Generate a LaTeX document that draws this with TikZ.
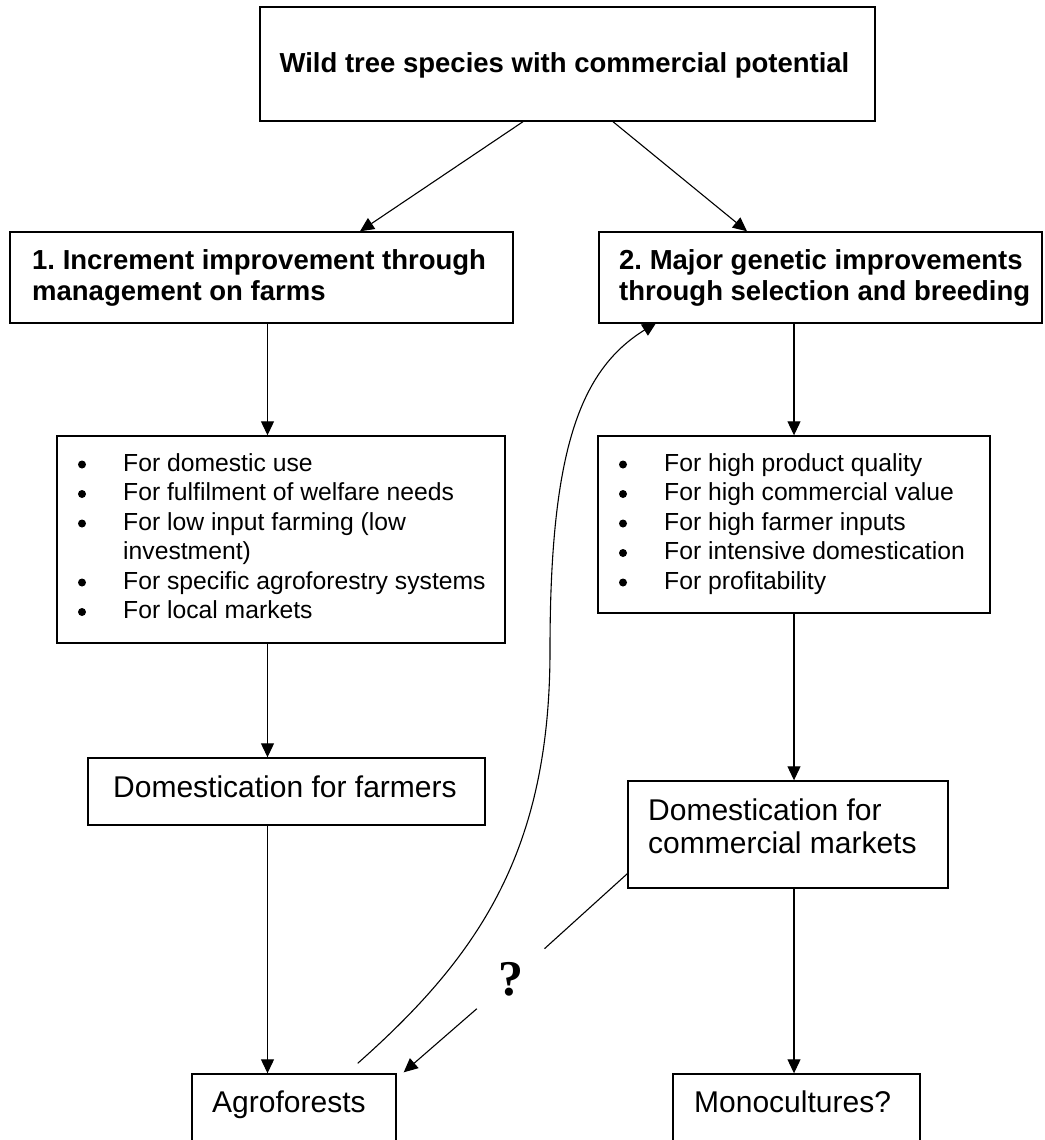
\documentclass[tikz,border=0pt]{standalone}
\usepackage{fontspec}
\setmainfont{Liberation Sans}
\newfontfamily\qfont{Liberation Serif}
\usetikzlibrary{arrows.meta}
\frenchspacing
\begin{document}
\begin{tikzpicture}[x=1pt,y=-1pt,
  box/.style={draw,line width=1.4pt,rectangle,inner sep=0pt},
  hdr/.style={font=\bfseries\fontsize{27.5pt}{33pt}\selectfont,inner sep=0pt,anchor=base west},
  hdrc/.style={font=\bfseries\fontsize{27.5pt}{33pt}\selectfont,inner sep=0pt,anchor=base},
  lst/.style={font=\fontsize{24.7pt}{29.5pt}\selectfont,inner sep=0pt,anchor=base west},
  dom/.style={font=\fontsize{30pt}{36pt}\selectfont,inner sep=0pt,anchor=base west},
  arr/.style={line width=1.1pt,-{Triangle[length=14pt,width=13pt]}},
  conn/.style={line width=1.1pt},
  bul/.style={circle,fill=black,inner sep=0pt,minimum size=8pt}]
\useasboundingbox (0,0) rectangle (1044,1140);
% boxes
\node[box,minimum width=615pt,minimum height=114pt] (top) at (567.5,64) {};
\node[box,minimum width=503pt,minimum height=91pt] (b1) at (261.5,277.5) {};
\node[box,minimum width=443pt,minimum height=91pt] (b2) at (820.5,277.5) {};
\node[box,minimum width=448pt,minimum height=207pt] (l1) at (281,539.5) {};
\node[box,minimum width=392pt,minimum height=177pt] (l2) at (794,524.5) {};
\node[box,minimum width=397pt,minimum height=67pt] (farm) at (286.5,791.5) {};
\node[box,minimum width=320pt,minimum height=107pt] (comm) at (788,834.5) {};
\node[box,minimum width=204pt,minimum height=80pt] (agro) at (294,1114) {};
\node[box,minimum width=247pt,minimum height=80pt] (mono) at (796.5,1114) {};
% texts
\node[hdrc] (ttop) at (564.5,73) {Wild tree species with commercial potential};
\node[hdr] (tb1a) at (32,269) {1. Increment improvement through};
\node[hdr] (tb1b) at (32,300) {management on farms};
\node[hdr] (tb2a) at (619,269) {2. Major genetic improvements};
\node[hdr] (tb2b) at (619,300) {through selection and breeding};
\node[lst] (l1a) at (123,471) {For domestic use};
\node[lst] (l1b) at (123,500.5) {For fulfilment of welfare needs};
\node[lst] (l1c) at (123,530) {For low input farming (low};
\node[lst] (l1d) at (123,559.5) {investment)};
\node[lst] (l1e) at (123,589) {For specific agroforestry systems};
\node[lst] (l1f) at (123,618.5) {For local markets};
\foreach \y in {471,500.5,530,589,618.5} \node[bul] at (82,\y-6.5) {};
\node[lst] (l2a) at (664,471) {For high product quality};
\node[lst] (l2b) at (664,500.5) {For high commercial value};
\node[lst] (l2c) at (664,530) {For high farmer inputs};
\node[lst] (l2d) at (664,559.5) {For intensive domestication};
\node[lst] (l2e) at (664,589) {For profitability};
\foreach \y in {471,500.5,530,559.5,589} \node[bul] at (623,\y-6.5) {};
\node[dom] (tfarm) at (113,797) {Domestication for farmers};
\node[dom] (tcomma) at (648,820) {Domestication for};
\node[dom] (tcommb) at (648,853) {commercial markets};
\node[dom] (tagro) at (212,1112) {Agroforests};
\node[dom] (tmono) at (694,1112) {Monocultures?};
\node[circle,minimum size=90pt,inner sep=0pt,font=\qfont\bfseries\fontsize{50pt}{60pt}\selectfont] (q) at (511,979) {?};
% connectors
\coordinate (xl) at (267.5,0);
\coordinate (xr) at (794,0);
\draw[arr] ([xshift=-44.5pt]top.south) -- ([xshift=98.5pt]b1.north);
\draw[arr] ([xshift=45.5pt]top.south) -- ([xshift=-73.5pt]b2.north);
\draw[arr] (b1.south -| xl) -- (l1.north -| xl);
\draw[arr] (b2.south -| xr) -- (l2.north -| xr);
\draw[arr] (l1.south -| xl) -- (farm.north -| xl);
\draw[arr] (l2.south -| xr) -- (comm.north -| xr);
\draw[arr] (farm.south -| xl) -- (agro.north -| xl);
\draw[arr] (comm.south -| xr) -- (mono.north -| xr);
\draw[conn] ([yshift=15pt]comm.south west) -- (q);
\draw[arr] (q) -- ([xshift=7pt,yshift=1pt]agro.north east);
\coordinate (mid) at (550,650);
\draw[arr] ([xshift=-39pt,yshift=10pt]agro.north east) .. controls (480,955) and (550,850) .. (mid) .. controls (550,450) and (580,370) .. ([xshift=58pt,yshift=1pt]b2.south west);
\end{tikzpicture}
\end{document}
